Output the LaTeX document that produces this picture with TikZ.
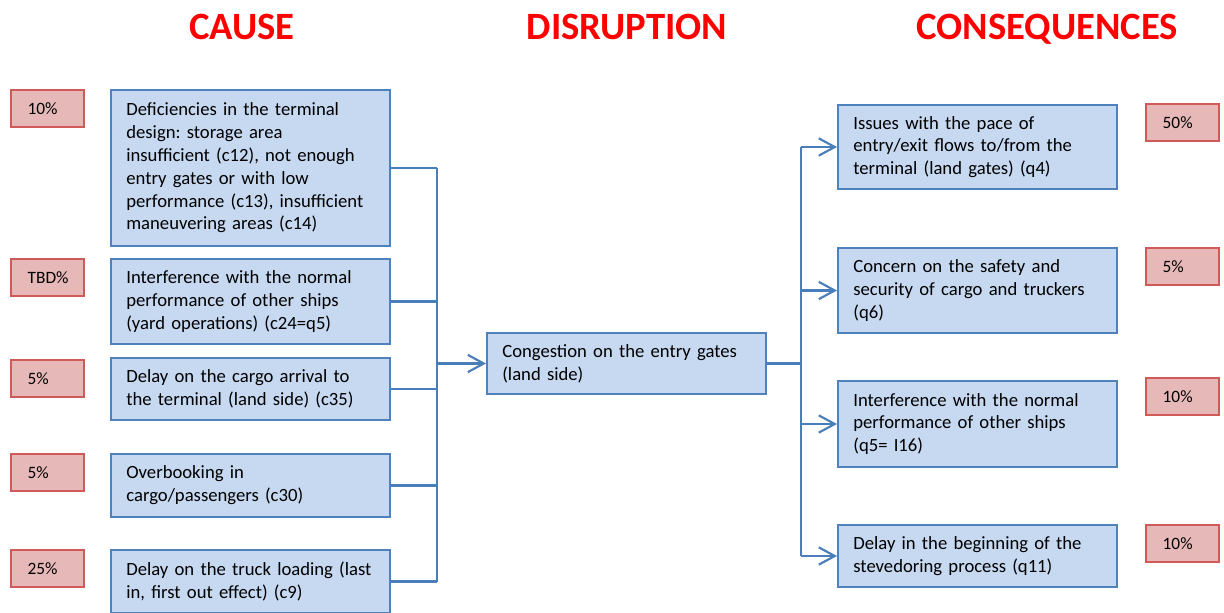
\documentclass[tikz,border=0pt]{standalone}
\usepackage{fontspec}
\setmainfont{Carlito}
\usepackage{tikz}
\usetikzlibrary{arrows.meta,positioning}
\definecolor{boxblue}{HTML}{C6D9F1}
\definecolor{edgeblue}{HTML}{4F81BD}
\definecolor{linkblue}{HTML}{4A7EBB}
\definecolor{pctred}{HTML}{E6B9B8}
\definecolor{edgered}{HTML}{D05A57}
\frenchspacing
\tikzset{
  heading/.style={anchor=base, text=red, font=\fontsize{29}{35}\selectfont\bfseries},
  factbox/.style={rectangle, draw=edgeblue, fill=boxblue, line width=1.5pt, anchor=north west,
    inner xsep=11.5pt, inner ysep=0pt, text width=186pt, align=left,
    font=\fontsize{14}{17.1}\selectfont},
  pctbox/.style={rectangle, draw=edgered, fill=pctred, line width=1.5pt, anchor=north west,
    inner xsep=12.5pt, inner ysep=0pt, text width=29.75pt, align=left, minimum height=28.1pt,
    font=\fontsize{13}{15}\selectfont},
  link/.style={draw=linkblue, line width=1.6pt},
  flow/.style={link, -{Straight Barb[length=12pt,width=13pt]}}
}
\begin{document}
\begin{tikzpicture}[x=0.75pt, y=-0.75pt]
        \def\pxl{0.75pt}
        \useasboundingbox (0,0) rectangle (1224,613);

        \node(hcause) [heading] at (242,40) {CAUSE};
        \node(hdisr) [heading] at (627,40) {DISRUPTION};
        \node(hcons) [heading] at (1047,40) {CONSEQUENCES};

        \node(cause1) [factbox, minimum height = 156*\pxl] at (110,89) {Deficiencies in the terminal\\ design: storage area\\ insufficient (c12), not enough\\ entry gates or with low\\ performance (c13), insufficient\\ maneuvering areas (c14)};
        \node(cause2) [factbox, minimum height = 85*\pxl] at (110,258) {Interference with the normal\\ performance of other ships\\ (yard operations) (c24=q5)};
        \node(cause3) [factbox, minimum height = 62*\pxl] at (110,357) {Delay on the cargo arrival to\\ the terminal (land side) (c35)};
        \node(cause4) [factbox, minimum height = 63*\pxl] at (110,453) {Overbooking in\\ cargo/passengers (c30)};
        \node(cause5) [factbox, minimum height = 63*\pxl] at (110,549) {Delay on the truck loading (last\\ in, first out effect) (c9)};

        \node(pct1) [pctbox] at (10,89) {10\%};
        \node(pct2) [pctbox] at (10,258) {TBD\%};
        \node(pct3) [pctbox] at (10,359) {5\%};
        \node(pct4) [pctbox] at (10,453) {5\%};
        \node(pct5) [pctbox] at (10,549) {25\%};

        \node(disr) [factbox, minimum height = 61*\pxl] at (486,332) {Congestion on the entry gates\\ (land side)};

        \node(cons1) [factbox, minimum height = 84*\pxl] at (837,104) {Issues with the pace of\\ entry/exit flows to/from the\\ terminal (land gates) (q4)};
        \node(cons2) [factbox, minimum height = 85*\pxl] at (837,247) {Concern on the safety and\\ security of cargo and truckers\\ (q6)};
        \node(cons3) [factbox, minimum height = 86*\pxl] at (837,380) {Interference with the normal\\ performance of other ships\\ (q5= I16)};
        \node(cons4) [factbox, minimum height = 62*\pxl] at (837,524) {Delay in the beginning of the\\ stevedoring process (q11)};

        \node(qct1) [pctbox] at (1145,103) {50\%};
        \node(qct2) [pctbox] at (1145,247) {5\%};
        \node(qct3) [pctbox] at (1145,377) {10\%};
        \node(qct4) [pctbox] at (1145,524) {10\%};

        \coordinate(busL) at (437,0);
        \coordinate(busR) at (801,0);

        \foreach \i in {1,...,5}
            \draw[link] (cause\i.east) -- (cause\i.east -| busL);
        \draw[link] (cause1.east -| busL) -- (cause5.east -| busL);
        \draw[flow] (disr.west -| busL) -- (disr.west);

        \draw[link] (disr.east) -- (disr.east -| busR);
        \draw[link] (cons1.west -| busR) -- (cons4.west -| busR);
        \foreach \i in {1,...,4}
            \draw[flow] (cons\i.west -| busR) -- (cons\i.west);
\end{tikzpicture}
\end{document}
